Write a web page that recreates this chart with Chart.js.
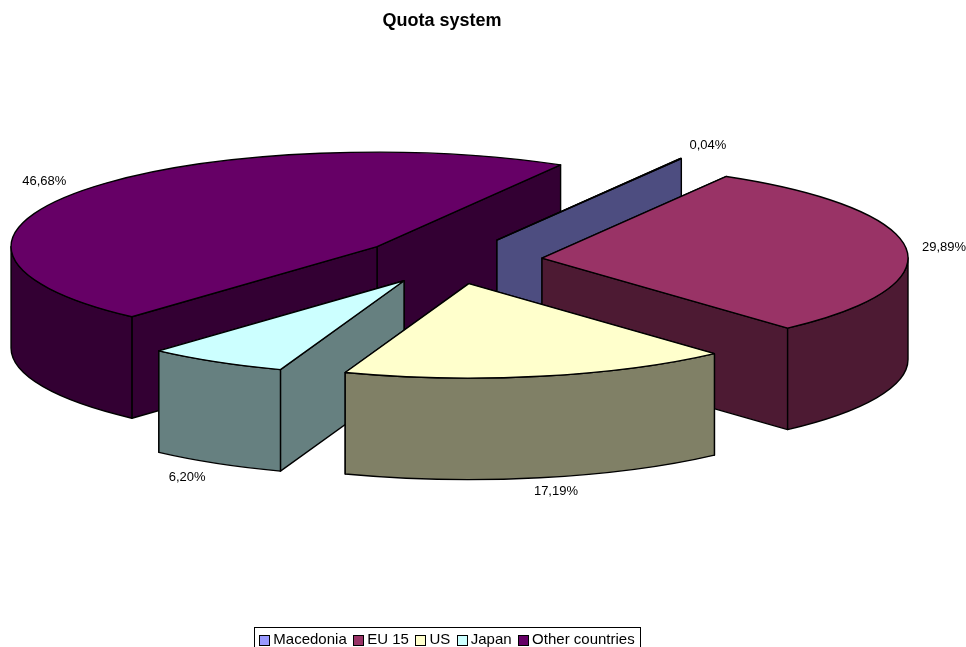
<!DOCTYPE html>
<html>
<head>
<meta charset="utf-8">
<title>Quota system</title>
<style>html,body{margin:0;padding:0;background:#fff}canvas{display:block}</style>
<script src="https://cdn.jsdelivr.net/npm/chart.js@4"></script>
</head>
<body>
<canvas id="c" width="966" height="647"></canvas>
<script>
const categories = ['Macedonia', 'EU 15', 'US', 'Japan', 'Other countries'];
const shares = [0.04, 29.89, 17.19, 6.20, 46.68];
const topColors = ['#9999FF', '#993366', '#FFFFCC', '#CCFFFF', '#660066'];
const sideColors = ['#4D4D80', '#4D1A33', '#808066', '#668080', '#330033'];
const labelOffsets = [[27, -13], [38, -1], [16, 115], [-29, 116], [-37, -10]];
const drawOrder = [4, 0, 1, 3, 2];

const PIE = {x: 451, y: 260.5, squash: 0.258, depth: 101.5};
const FONT = '"Liberation Sans", Arial, sans-serif';
Chart.defaults.font.family = FONT;
Chart.defaults.color = '#000';

function fmt(v) { return v.toFixed(2).replace('.', ',') + '%'; }

function frontRange(a, b) {
  for (const k of [0, 2 * Math.PI, -2 * Math.PI]) {
    const s = Math.max(a + k, 0), e = Math.min(b + k, Math.PI);
    if (e > s) return [s, e];
  }
  return null;
}

const pie3d = {
  id: 'pie3d',
  afterLayout(chart) {
    chart.titleBlock.left -= 5;
    chart.titleBlock.right -= 5;
  },
  beforeDatasetsDraw(chart) {
    const ctx = chart.ctx;
    const arcs = chart.getDatasetMeta(0).data;
    ctx.save();
    ctx.lineWidth = 1.4;
    ctx.strokeStyle = '#000';
    ctx.lineJoin = 'round';
    for (const i of drawOrder) {
      const arc = arcs[i];
      const {startAngle: a, endAngle: b, outerRadius: r} = arc.getProps(['startAngle', 'endAngle', 'outerRadius'], true);
      const off = arc.options.offset, mid = (a + b) / 2;
      const cx = PIE.x + off * Math.cos(mid);
      const cy = PIE.y + off * Math.sin(mid) * PIE.squash;
      const ry = r * PIE.squash, d = PIE.depth;
      const rim = t => [cx + r * Math.cos(t), cy + ry * Math.sin(t)];

      // cut faces, the farther one first
      const faces = [a, b].sort((p, q) => rim(p)[1] - rim(q)[1]);
      ctx.fillStyle = sideColors[i];
      for (const t of faces) {
        const [px, py] = rim(t);
        ctx.beginPath();
        ctx.moveTo(cx, cy);
        ctx.lineTo(px, py);
        ctx.lineTo(px, py + d);
        ctx.lineTo(cx, cy + d);
        ctx.closePath();
        ctx.fill();
        ctx.stroke();
      }
      // outer wall
      const fr = frontRange(a, b);
      if (fr) {
        ctx.beginPath();
        ctx.ellipse(cx, cy, r, ry, 0, fr[0], fr[1]);
        ctx.ellipse(cx, cy + d, r, ry, 0, fr[1], fr[0], true);
        ctx.closePath();
        ctx.fill();
        ctx.stroke();
      }
      // top
      ctx.fillStyle = topColors[i];
      ctx.beginPath();
      ctx.moveTo(cx, cy);
      ctx.ellipse(cx, cy, r, ry, 0, a, b);
      ctx.closePath();
      ctx.fill();
      ctx.stroke();
    }
    // value labels
    ctx.fillStyle = '#000';
    ctx.font = '13px ' + FONT;
    ctx.textAlign = 'center';
    ctx.textBaseline = 'middle';
    arcs.forEach((arc, i) => {
      const {startAngle: a, endAngle: b, outerRadius: r} = arc.getProps(['startAngle', 'endAngle', 'outerRadius'], true);
      const off = arc.options.offset, mid = (a + b) / 2;
      const px = PIE.x + (off + r) * Math.cos(mid);
      const py = PIE.y + (off + r) * Math.sin(mid) * PIE.squash;
      ctx.fillText(fmt(shares[i]), px + labelOffsets[i][0], py + labelOffsets[i][1]);
    });
    ctx.restore();
    return false;
  },
  afterDraw(chart) {
    const ctx = chart.ctx, lg = chart.legend, boxes = lg.legendHitBoxes;
    ctx.save();
    ctx.lineWidth = 1;
    ctx.strokeStyle = '#000';
    boxes.forEach((h, i) => {
      const sx = Math.round(h.left) + 0.5, sy = Math.round(h.top + h.height / 2 - 5) + 0.5;
      ctx.fillStyle = topColors[i];
      ctx.fillRect(sx, sy, 10, 10);
      ctx.strokeRect(sx, sy, 10, 10);
    });
    const l = Math.round(boxes[0].left) - 4.5;
    const last = boxes[boxes.length - 1];
    const rgt = Math.round(last.left + last.width) + 5.5;
    ctx.strokeRect(l, 627.5, rgt - l, 30);
    ctx.restore();
  }
};

new Chart(document.getElementById('c'), {
  type: 'pie',
  plugins: [pie3d],
  data: {
    labels: categories,
    datasets: [{
      data: shares,
      backgroundColor: topColors,
      borderColor: '#000',
      borderWidth: 1,
      offset: 91.5,
      radius: 366,
      rotation: 30.1
    }]
  },
  options: {
    responsive: false,
    animation: false,
    devicePixelRatio: 1,
    layout: {padding: {right: 72, bottom: -10}},
    plugins: {
      tooltip: {enabled: false},
      title: {
        display: true,
        text: 'Quota system',
        color: '#000',
        font: {size: 18, weight: 'bold', family: FONT},
        padding: {top: 10, bottom: 10}
      },
      legend: {
        position: 'bottom',
        labels: {
          color: '#000',
          font: {size: 15, family: FONT},
          boxWidth: 6.5,
          boxHeight: 10,
          padding: 6.5,
          generateLabels(chart) {
            return Chart.overrides.pie.plugins.legend.labels.generateLabels(chart).map(it =>
              Object.assign(it, {fillStyle: 'rgba(0,0,0,0)', strokeStyle: 'rgba(0,0,0,0)', lineWidth: 0}));
          }
        }
      }
    }
  }
});
</script>
</body>
</html>
